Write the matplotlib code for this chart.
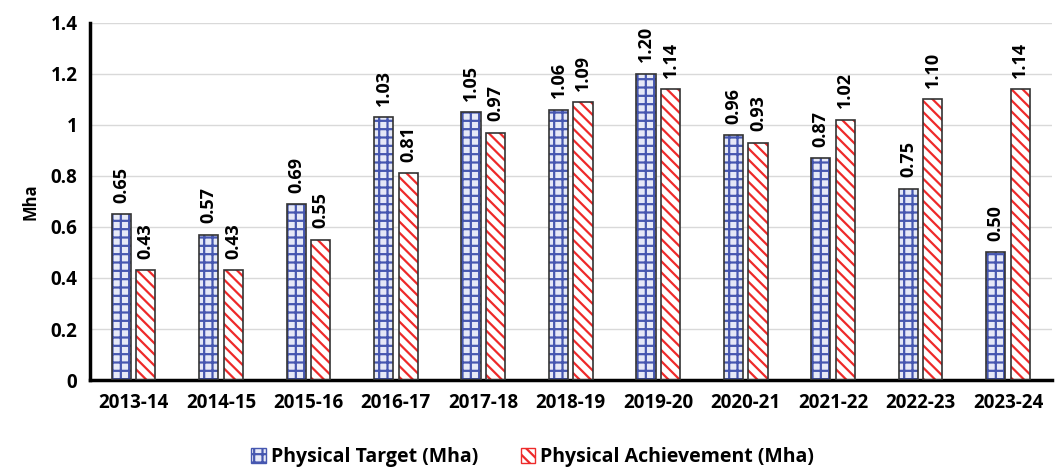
import numpy as np
import matplotlib
matplotlib.use("Agg")
import matplotlib.pyplot as plt
from matplotlib.patches import Patch

plt.rcParams['font.family'] = ['Open Sans', 'DejaVu Sans']
plt.rcParams['hatch.linewidth'] = 1.6

years = ['2013-14', '2014-15', '2015-16', '2016-17', '2017-18', '2018-19',
         '2019-20', '2020-21', '2021-22', '2022-23', '2023-24']
target = [0.65, 0.57, 0.69, 1.03, 1.05, 1.06, 1.20, 0.96, 0.87, 0.75, 0.50]
achieved = [0.43, 0.43, 0.55, 0.81, 0.97, 1.09, 1.14, 0.93, 1.02, 1.10, 1.14]

BLUE = '#4657b0'
RED = '#ee2a2a'

fig = plt.figure(figsize=(10.57, 4.68), dpi=100)
ax = fig.add_axes([0.085, 0.188, 0.91, 0.763])

x = np.arange(len(years))
w = 0.22
off = 0.14

# hatched fill first, then a dark outline on top
ax.bar(x - off, target, w, color='#e6e9f7', edgecolor=BLUE, hatch='++', linewidth=0, zorder=2)
ax.bar(x - off, target, w, color='none', edgecolor='#333333', linewidth=1.2, zorder=3)
ax.bar(x + off, achieved, w, color='white', edgecolor=RED, hatch='\\\\\\', linewidth=0, zorder=2)
ax.bar(x + off, achieved, w, color='none', edgecolor='#333333', linewidth=1.2, zorder=3)

for xi, v in zip(x - off, target):
    ax.text(xi, v + 0.045, f'{v:.2f}', rotation=90, ha='center', va='bottom',
            fontsize=13, fontweight='bold')
for xi, v in zip(x + off, achieved):
    ax.text(xi, v + 0.045, f'{v:.2f}', rotation=90, ha='center', va='bottom',
            fontsize=13, fontweight='bold')

ax.set_xlim(-0.5, len(years) - 0.5)
ax.set_ylim(0, 1.4)
ax.set_yticks(np.arange(0, 1.41, 0.2))
ax.set_yticklabels(['0', '0.2', '0.4', '0.6', '0.8', '1', '1.2', '1.4'])
ax.set_xticks(x)
ax.set_xticklabels(years)
for lbl in ax.get_xticklabels() + ax.get_yticklabels():
    lbl.set_fontweight('bold')
    lbl.set_fontsize(13.5)
ax.tick_params(length=0, pad=9)
ax.set_ylabel('Mha', fontsize=12, fontweight='bold', labelpad=8)

ax.grid(axis='y', color='#d9d9d9', linewidth=1, zorder=0)
ax.set_axisbelow(True)
for s in ['top', 'right']:
    ax.spines[s].set_visible(False)
for s in ['left', 'bottom']:
    ax.spines[s].set_linewidth(2.5)
    ax.spines[s].set_color('black')

handles = [Patch(facecolor='#e6e9f7', edgecolor=BLUE, hatch='++', label='Physical Target (Mha)'),
           Patch(facecolor='white', edgecolor=RED, hatch='\\\\\\', label='Physical Achievement (Mha)')]
fig.legend(handles=handles, loc='lower center', ncol=2, frameon=False,
           bbox_to_anchor=(0.504, -0.036), prop={'weight': 'bold', 'size': 14},
           handlelength=0.75, handleheight=0.75, columnspacing=2.2, handletextpad=0.25)

fig.savefig('out.png', dpi=100)
